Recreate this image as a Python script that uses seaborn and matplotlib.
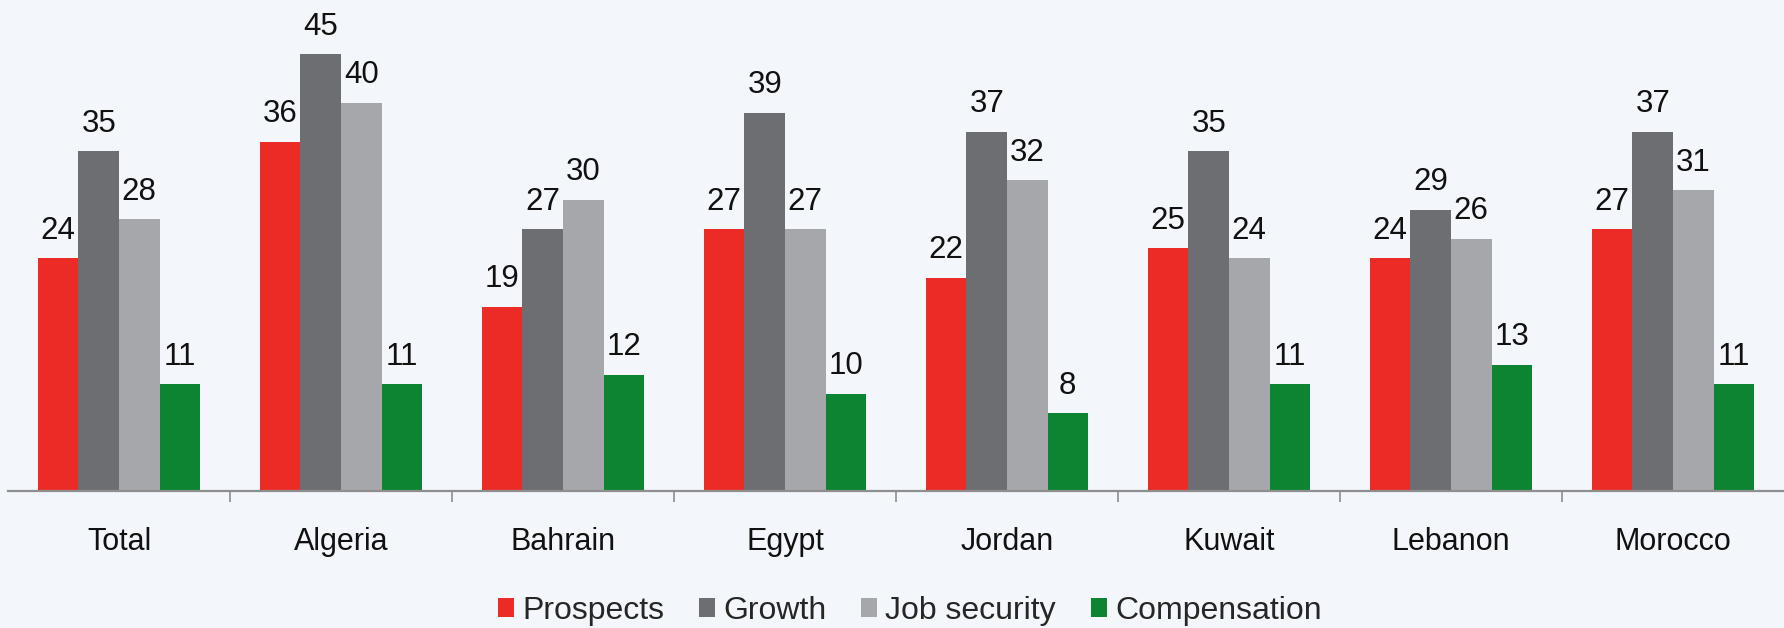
import matplotlib
matplotlib.use("Agg")
import matplotlib.pyplot as plt
from matplotlib.patches import Patch
from matplotlib.ticker import FixedLocator
import seaborn as sns
import pandas as pd

countries = ["Total", "Algeria", "Bahrain", "Egypt", "Jordan", "Kuwait", "Lebanon", "Morocco"]
metrics = ["Prospects", "Growth", "Job security", "Compensation"]

prospects = [24, 36, 19, 27, 22, 25, 24, 27]
growth = [35, 45, 27, 39, 37, 35, 29, 37]
job_security = [28, 40, 30, 27, 32, 24, 26, 31]
compensation = [11, 11, 12, 10, 8, 11, 13, 11]

colors = ["#EC2B26", "#6D6E71", "#A6A7AA", "#0D8431"]

rows = []
for metric, vals in zip(metrics, [prospects, growth, job_security, compensation]):
    for c, v in zip(countries, vals):
        rows.append({"country": c, "metric": metric, "value": v})
df = pd.DataFrame(rows)

sns.set_theme(style="white")
plt.rcParams["font.family"] = ["Liberation Sans", "DejaVu Sans"]

bg = "#F3F6FA"
fig = plt.figure(figsize=(17.84, 6.28), dpi=100, facecolor=bg)
ax = fig.add_axes([8 / 1784, 137 / 628, 1776 / 1784, 491 / 628])
ax.set_facecolor("none")

sns.barplot(data=df, x="country", y="value", hue="metric", order=countries,
            hue_order=metrics, palette=colors, width=0.73, saturation=1,
            linewidth=0, ax=ax, legend=False)

for cont in ax.containers:
    ax.bar_label(cont, fmt="%d", padding=9, fontsize=22.5, color="#111111")

ax.set_xlim(-0.5, len(countries) - 0.5)
ax.set_ylim(0, 50.6)
ax.set_xlabel("")
ax.set_ylabel("")
ax.set_yticks([])
for s in ["top", "left", "right"]:
    ax.spines[s].set_visible(False)
ax.spines["bottom"].set_color("#8E8E8E")
ax.spines["bottom"].set_linewidth(1.6)

ax.tick_params(axis="x", which="major", length=0, pad=26, labelsize=22,
               labelcolor="#111111")
ax.xaxis.set_minor_locator(FixedLocator([i + 0.5 for i in range(len(countries) - 1)]))
ax.tick_params(axis="x", which="minor", bottom=True, length=8, width=1.2,
               color="#8E8E8E", direction="out")

handles = [Patch(facecolor=c, edgecolor="none") for c in colors]
fig.legend(handles, metrics, loc="center", bbox_to_anchor=(0.51, 1 - 611 / 628),
           ncol=4, frameon=False, fontsize=23, handlelength=0.5,
           handleheight=0.55, handletextpad=0.25, columnspacing=1.1,
           borderpad=0, borderaxespad=0)

fig.savefig("out.png", dpi=100, facecolor=bg)
